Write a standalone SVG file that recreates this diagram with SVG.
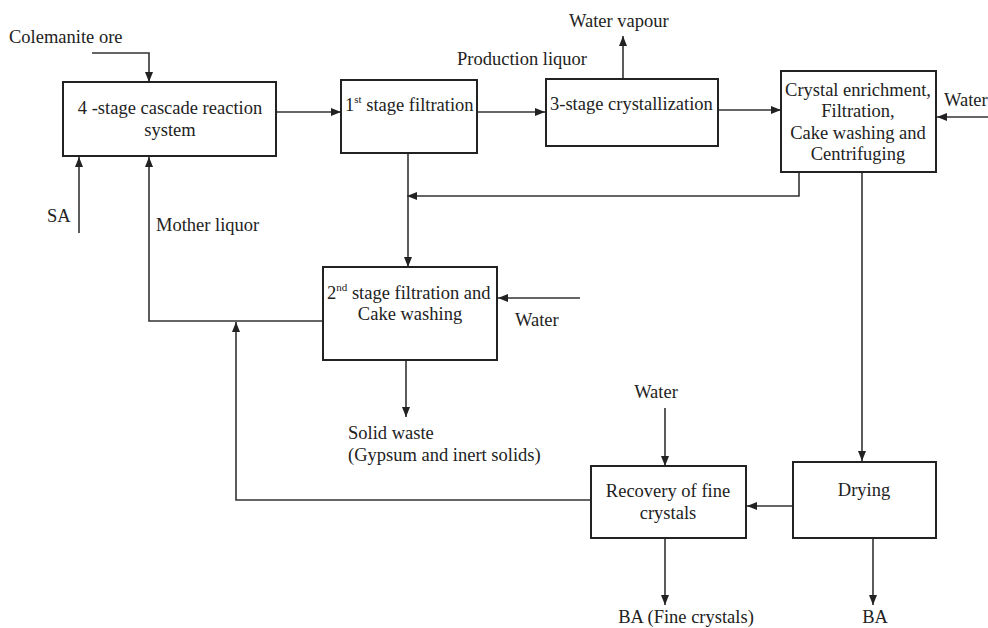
<svg xmlns="http://www.w3.org/2000/svg" width="988" height="628" viewBox="0 0 988 628">
<style>
text{font-family:"Liberation Serif","Times New Roman",serif;font-size:18.5px;fill:#222}
.b{fill:#fff;stroke:#222;stroke-width:2}
.c{fill:none;stroke:#333;stroke-width:1.6}
.m{text-anchor:middle}
.s{font-size:11px}
</style>
<defs>
<marker id="a" viewBox="0 0 10 10" refX="10" refY="5" markerWidth="10" markerHeight="10" markerUnits="userSpaceOnUse" orient="auto">
<path d="M0,1 L10,5 L0,9 Z" fill="#222"/>
</marker>
</defs>
<rect width="988" height="628" fill="#fff"/>
<g id="connectors">
<path class="c" d="M92,53 H149 V82" marker-end="url(#a)"/>
<path class="c" d="M79,233 V157" marker-end="url(#a)"/>
<path class="c" d="M323,321 H149 V157" marker-end="url(#a)"/>
<path class="c" d="M276,112 H341" marker-end="url(#a)"/>
<path class="c" d="M477,112 H545" marker-end="url(#a)"/>
<path class="c" d="M623,79 V36" marker-end="url(#a)"/>
<path class="c" d="M718,110 H781" marker-end="url(#a)"/>
<path class="c" d="M988,117 H937" marker-end="url(#a)"/>
<path class="c" d="M799,172 V196 H407" marker-end="url(#a)"/>
<path class="c" d="M408,153 V267" marker-end="url(#a)"/>
<path class="c" d="M580,298 H498" marker-end="url(#a)"/>
<path class="c" d="M406,360 V417" marker-end="url(#a)"/>
<path class="c" d="M591,500 H236 V322" marker-end="url(#a)"/>
<path class="c" d="M862,172 V461" marker-end="url(#a)"/>
<path class="c" d="M665,408 V466" marker-end="url(#a)"/>
<path class="c" d="M793,506 H747" marker-end="url(#a)"/>
<path class="c" d="M665,538 V605" marker-end="url(#a)"/>
<path class="c" d="M873,538 V605" marker-end="url(#a)"/>
</g>
<g id="labels">
<text x="9" y="43">Colemanite ore</text>
<text x="47" y="222">SA</text>
<text x="156" y="231">Mother liquor</text>
<text x="457" y="65">Production liquor</text>
<text x="569" y="27">Water vapour</text>
<text x="944" y="106">Water</text>
<text x="515" y="326">Water</text>
<text x="348" y="439">Solid waste</text>
<text x="348" y="461">(Gypsum and inert solids)</text>
<text class="m" x="656" y="398">Water</text>
<text class="m" x="686" y="623">BA (Fine crystals)</text>
<text class="m" x="875" y="623">BA</text>
</g>
<g id="reaction">
<rect class="b" x="63" y="82" width="213" height="74"/>
<text class="m" x="170" y="114">4 -stage cascade reaction</text>
<text class="m" x="170" y="136">system</text>
</g>
<g id="filtration1">
<rect class="b" x="341" y="80" width="136" height="73"/>
<text x="345" y="111">1<tspan class="s" dy="-8">st</tspan><tspan dy="8"> stage filtration</tspan></text>
</g>
<g id="crystallization">
<rect class="b" x="546" y="79" width="172" height="67"/>
<text x="550" y="110">3-stage crystallization</text>
</g>
<g id="enrichment">
<rect class="b" x="781" y="71" width="155" height="101"/>
<text class="m" x="858" y="96">Crystal enrichment,</text>
<text class="m" x="858" y="117">Filtration,</text>
<text class="m" x="858" y="139">Cake washing and</text>
<text class="m" x="858" y="160">Centrifuging</text>
</g>
<g id="filtration2">
<rect class="b" x="323" y="267" width="174" height="93"/>
<text x="327" y="299">2<tspan class="s" dy="-8">nd</tspan><tspan dy="8"> stage filtration and</tspan></text>
<text class="m" x="410" y="320">Cake washing</text>
</g>
<g id="recovery">
<rect class="b" x="591" y="466" width="155" height="72"/>
<text class="m" x="668" y="497">Recovery of fine</text>
<text class="m" x="668" y="519">crystals</text>
</g>
<g id="drying">
<rect class="b" x="793" y="462" width="143" height="76"/>
<text class="m" x="864" y="496">Drying</text>
</g>
</svg>
